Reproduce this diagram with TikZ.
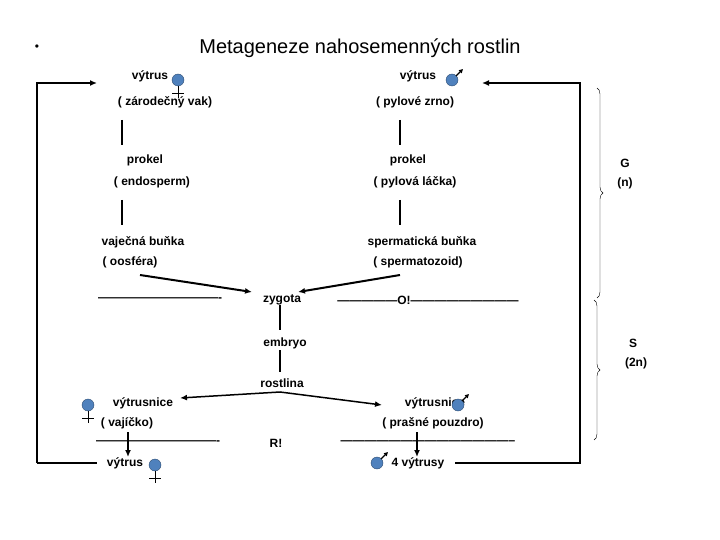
\documentclass[tikz,border=0pt]{standalone}
\usepackage{fontspec}
\setmainfont{Liberation Sans}
\usetikzlibrary{decorations.pathreplacing,arrows.meta,calc}
\definecolor{sym}{RGB}{79,129,189}
\begin{document}
\begin{tikzpicture}[x=1pt,y=-1pt,
  t/.style={font=\bfseries\fontsize{12}{14}\selectfont,inner sep=0pt},
  bar/.style={line width=2pt},
  ar/.style={line width=2pt,-{Latex[length=7pt,width=6pt]}},
  fr/.style={line width=1.5pt}]
\useasboundingbox (0,0) rectangle (720,540);
\newcommand{\femsym}[1]{\draw[fill=sym,draw=sym!60!black] (#1) circle (6); \draw ($(#1)+(0,6)$) -- ++(0,12) ($(#1)+(-6,13)$) -- ++(12,0);}
\newcommand{\malesym}[1]{\draw[fill=sym,draw=sym!60!black] (#1) circle (6); \draw[line width=1.2pt,-{Triangle[length=4pt,width=4pt]}] ($(#1)+(4,-4)$) -- ++(7,-7);}
\node[font=\fontsize{20}{24}\selectfont] (title) at (360,48) {Metageneze nahosemenných rostlin};
\node[font=\fontsize{12}{14}\selectfont] (bul) at (37,48) {•};
% left column
\node[t] (v1) at (150,76) {výtrus};
\node[t] (zv) at (165,102) {( zárodečný vak)};
\node[t] (p1) at (145,160) {prokel};
\node[t] (e1) at (152,182) {( endosperm)};
\node[t] (vb) at (143,242) {vaječná buňka};
\node[t] (oo) at (130,262) {( oosféra)};
% right column
\node[t] (v2) at (418,76) {výtrus};
\node[t] (pz) at (415,102) {( pylové zrno)};
\node[t] (p2) at (408,160) {prokel};
\node[t] (pl) at (415,182) {( pylová láčka)};
\node[t] (sb) at (422,242) {spermatická buňka};
\node[t] (sp) at (418,262) {( spermatozoid)};
\begin{scope}[bar]
\draw (122,120) -- (122,145); \draw (400,120) -- (400,145);
\draw (122,200) -- (122,225); \draw (400,200) -- (400,225);
\end{scope}
% center
\node[t] (dl1) at (160,300) {-------------------------------};
\node[t] (zy) at (282,300) {zygota};
\node[t] (dr1) at (428,300) {---------------O!---------------------------};
\node[t] (em) at (285,343) {embryo};
\node[t] (ro) at (282,383) {rostlina};
\draw[ar] (140,275) -- (252,292);
\draw[ar] (400,275) -- (298,292);
\draw[bar] (280,305) -- (280,330);
\draw[bar] (280,350) -- (280,372);
% bottom
\node[t] (vs1) at (143,403) {výtrusnice};
\node[t] (vj) at (127,423) {( vajíčko)};
\node[t] (vs2) at (435,403) {výtrusnice};
\node[t] (pp) at (433,423) {( prašné pouzdro)};
\node[t] (dl2) at (158,443) {-------------------------------};
\node[t] (rr) at (276,443) {R!};
\node[t] (dr2) at (428,443) {--------------------------------------------};
\node[t] (v3) at (125,463) {výtrus};
\node[t] (v4) at (418,463) {4 výtrusy};
\draw[line width=1.5pt,{Latex[length=7pt,width=6pt]}-{Latex[length=7pt,width=6pt]}] (180,398) -- (280,392) -- (382,405);
\draw[ar] (128,432) -- (128,457);
\draw[ar] (417,432) -- (417,457);
% symbols
\femsym{178,80}
\malesym{452,80}
\femsym{88,405}
\malesym{458,405}
\femsym{155,465}
\malesym{377,463}
% frame
\draw[fr,-{Latex[length=7pt,width=6pt]}] (37,463) -- (37,83) -- (97,83);
\draw[fr] (37,463) -- (97,463);
\draw[fr,-{Latex[length=7pt,width=6pt]}] (455,463) -- (580,463) -- (580,83) -- (482,83);
% braces
\draw[decorate,decoration={brace,amplitude=6pt}] (597,88) -- (597,298);
\draw[decorate,decoration={brace,amplitude=6pt}] (594,300) -- (594,440);
\node[t] (g) at (625,163) {G};
\node[t] (n) at (625,183) {(n)};
\node[t] (s) at (633,343) {S};
\node[t] (n2) at (636,363) {(2n)};
\end{tikzpicture}
\end{document}
